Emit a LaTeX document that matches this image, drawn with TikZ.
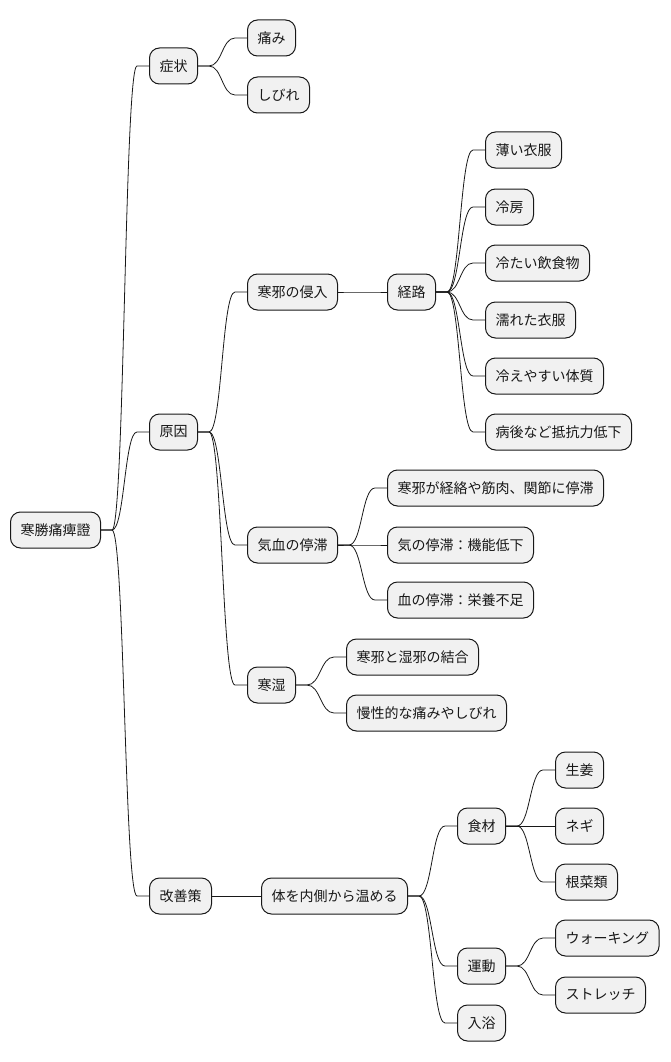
\documentclass[tikz,border=0pt]{standalone}
\usepackage{fontspec}
\usepackage{xcolor}
\usepackage{tikz}
\usetikzlibrary{calc}
\newfontfamily\jpfont{Noto Sans CJK JP}
\definecolor{boxfill}{HTML}{F1F1F1}
\definecolor{ink}{HTML}{181818}
\tikzset{
  topic/.style = {rectangle, rounded corners=10pt, draw=ink, line width=1pt,
                  fill=boxfill, minimum height=36pt, inner xsep=10pt, inner ysep=2pt,
                  anchor=west, font=\jpfont\fontsize{14}{16}\selectfont, text=ink},
  link/.style  = {draw=ink, line width=0.8pt},
  fan/.style   = {to path={let \p1=(\tikztostart.east), \p2=(\tikztotarget.west) in
                   (\p1) -- (\x1+11,\y1)
                   .. controls ($(\x1+11,\y1)!0.5!(\x2-12,\y1)$) and ($(\x1+11,\y2)!0.5!(\x2-12,\y2)$)
                   .. (\x2-12,\y2) -- (\p2)}},
}
\begin{document}
\begin{tikzpicture}[x=1pt, y=-1pt]
  \useasboundingbox (0,0) rectangle (670,1062);

  % root and first level
  \node[topic] (root) at (10,530) {寒勝痛痺證};
  \node[topic] (sym) at (149,66) {症状};
  \node[topic] (cause) at (149,432) {原因};
  \node[topic] (care) at (149,896) {改善策};

  % symptoms
  \node[topic] (pain) at (247,38) {痛み};
  \node[topic] (numb) at (247,95) {しびれ};

  % causes
  \node[topic] (invade) at (247,292) {寒邪の侵入};
  \node[topic] (route) at (387,292) {経路};
  \node[topic] (r1) at (485,150) {薄い衣服};
  \node[topic] (r2) at (485,207) {冷房};
  \node[topic] (r3) at (485,263) {冷たい飲食物};
  \node[topic] (r4) at (485,320) {濡れた衣服};
  \node[topic] (r5) at (485,376) {冷えやすい体質};
  \node[topic] (r6) at (485,432) {病後など抵抗力低下};

  \node[topic] (stag) at (247,545) {気血の停滞};
  \node[topic] (s1) at (387,488) {寒邪が経絡や筋肉、関節に停滞};
  \node[topic] (s2) at (387,545) {気の停滞：機能低下};
  \node[topic] (s3) at (387,600) {血の停滞：栄養不足};

  \node[topic] (damp) at (247,685) {寒湿};
  \node[topic] (d1) at (346,657) {寒邪と湿邪の結合};
  \node[topic] (d2) at (346,713) {慢性的な痛みやしびれ};

  % remedies
  \node[topic] (warm) at (261,896) {体を内側から温める};
  \node[topic] (food) at (457,826) {食材};
  \node[topic] (f1) at (555,770) {生姜};
  \node[topic] (f2) at (555,826) {ネギ};
  \node[topic] (f3) at (555,882) {根菜類};
  \node[topic] (move) at (457,966) {運動};
  \node[topic] (m1) at (555,938) {ウォーキング};
  \node[topic] (m2) at (555,995) {ストレッチ};
  \node[topic] (bath) at (457,1023) {入浴};

  % connectors
  \foreach \a/\b in {root/sym, root/cause, root/care,
                     sym/pain, sym/numb,
                     cause/invade, cause/stag, cause/damp,
                     invade/route,
                     route/r1, route/r2, route/r3, route/r4, route/r5, route/r6,
                     stag/s1, stag/s2, stag/s3,
                     damp/d1, damp/d2,
                     care/warm,
                     warm/food, warm/move, warm/bath,
                     food/f1, food/f2, food/f3,
                     move/m1, move/m2}
    \draw[link] (\a) to[fan] (\b);

\end{tikzpicture}
\end{document}
